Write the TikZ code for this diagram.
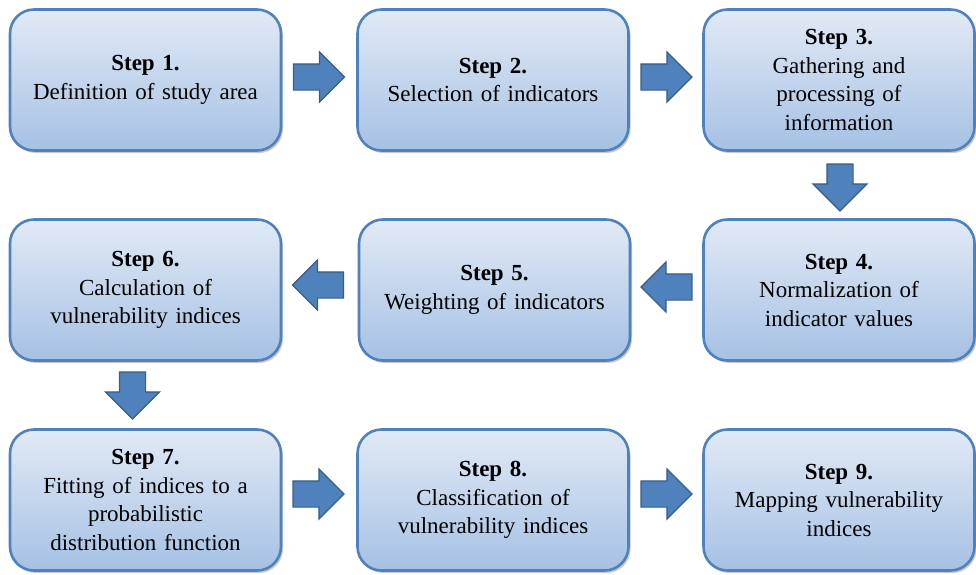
\documentclass[tikz,border=0pt]{standalone}
\usepackage{fontspec}
\setmainfont{Liberation Serif}
\usetikzlibrary{shapes.arrows,shadows,calc}
\definecolor{boxtop}{HTML}{E1EAF6}
\definecolor{boxbot}{HTML}{A6C1E4}
\definecolor{boxline}{HTML}{4F81BD}
\definecolor{arrfill}{HTML}{4F81BD}
\definecolor{arrline}{HTML}{385D8A}
\tikzset{
  stepbox/.style={rounded corners=24pt, minimum width=271pt, minimum height=141pt,
    draw=boxline, line width=2.6pt, top color=boxtop, bottom color=boxbot,
    drop shadow={shadow xshift=2pt, shadow yshift=-2.5pt, opacity=0.35, fill=black!60},
    align=center, text width=260pt, font=\fontsize{23}{28.5}\selectfont, inner sep=0pt},
  blockarrow/.style={single arrow, draw=arrline, fill=arrfill, line width=1.2pt,
    minimum height=51pt, minimum width=50pt, inner xsep=0pt, inner ysep=12.5pt,
    single arrow head extend=12pt, single arrow tip angle=90, anchor=center},
  downarrow/.style={blockarrow, rotate=-90, minimum height=47pt, minimum width=54pt,
    single arrow head extend=14pt},
}
\begin{document}
\begin{tikzpicture}[x=1pt,y=1pt]
\useasboundingbox (0,0) rectangle (976,-574);
\node[stepbox] (b1) at (145.5,-80) {\textbf{Step 1.}\\Definition of study area};
\node[stepbox] (b2) at (493,-80) {\textbf{Step 2.}\\Selection of indicators};
\node[stepbox] (b3) at (839,-80) {\textbf{Step 3.}\\Gathering and\\processing of\\information};
\node[stepbox] (b4) at (839,-290) {\textbf{Step 4.}\\Normalization of\\indicator values};
\node[stepbox] (b5) at (494.5,-290) {\textbf{Step 5.}\\Weighting of indicators};
\node[stepbox] (b6) at (145.5,-290) {\textbf{Step 6.}\\Calculation of\\vulnerability indices};
\node[stepbox] (b7) at (145.5,-500) {\textbf{Step 7.}\\Fitting of indices to a\\probabilistic\\distribution function};
\node[stepbox] (b8) at (493,-500) {\textbf{Step 8.}\\Classification of\\vulnerability indices};
\node[stepbox] (b9) at (839,-500) {\textbf{Step 9.}\\Mapping vulnerability\\indices};
\node[blockarrow] (a12) at (312.5,-77) {};
\node[blockarrow] (a23) at (660,-77) {};
\node[downarrow] (a34) at (840,-181) {};
\node[blockarrow, rotate=180] (a45) at (673,-287) {};
\node[blockarrow, rotate=180] (a56) at (324.5,-285) {};
\node[downarrow] (a67) at (132.5,-389) {};
\node[blockarrow] (a78) at (312,-494) {};
\node[blockarrow] (a89) at (660,-494) {};
\end{tikzpicture}
\end{document}
